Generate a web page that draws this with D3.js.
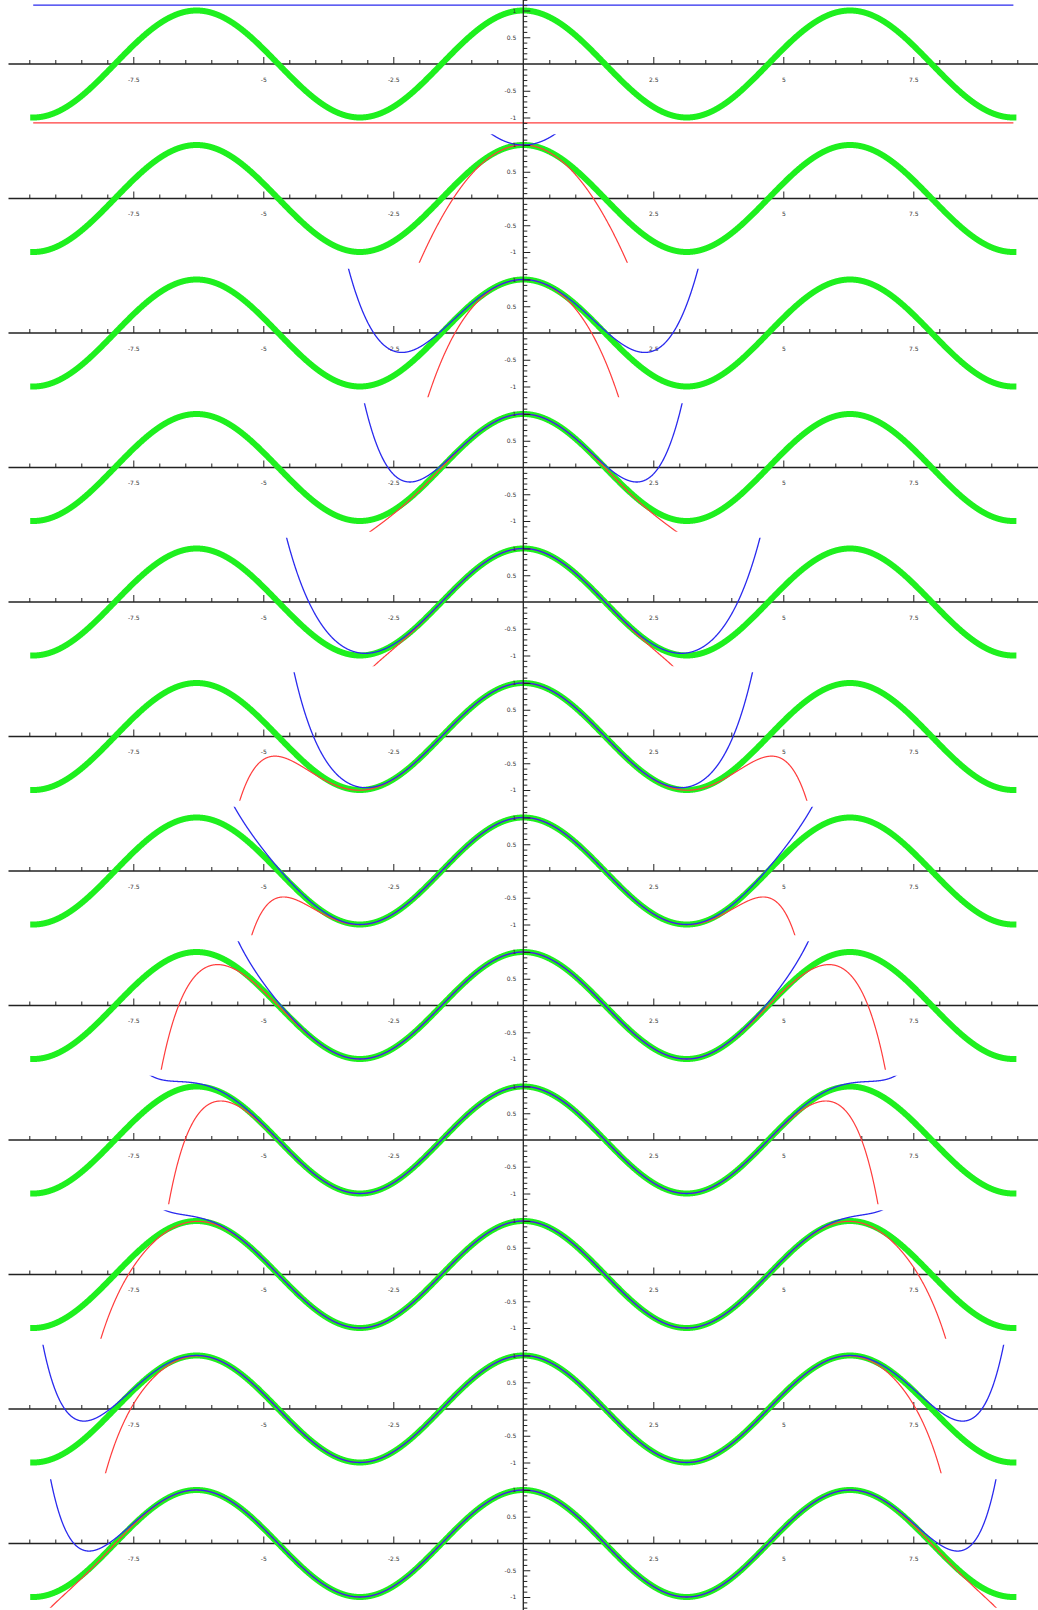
<!DOCTYPE html>
<html>
<head>
<meta charset="utf-8">
<script src="https://cdn.jsdelivr.net/npm/d3@7"></script>
<style>
  html, body { margin: 0; padding: 0; background: #fff; }
  svg { display: block; }
  .lbl { font-family: "DejaVu Sans", sans-serif; font-size: 6px; fill: #333; }
</style>
</head>
<body>
<svg id="chart" width="1038" height="1610"></svg>
<script>
// Twelve stacked frames: cos(x) (green) with the Taylor polynomial of the
// given degree widened by an error envelope  ±factor·|x|^m / m!
// (upper edge blue, lower edge red).

// Degree of the Taylor partial sum in each frame (null = empty sum, i.e. 0)
const partialSumDegrees = [null, 0, 2, 4, 6, 8, 10, 12, 14, 16, 18, 20];
// Power used by the error term in each frame
const envelopePowers = [0, 2, 4, 6, 8, 10, 12, 14, 16, 18, 20, 22];
// Scale applied to the error term
const envelopeFactor = 1.1;

// Axis ticks
const xMajorTicks = [-7.5, -5, -2.5, 2.5, 5, 7.5];
const xMinorTicks = d3.range(-19, 20).map(i => i / 2)
  .filter(v => v !== 0 && !xMajorTicks.includes(v));
const yMajorTicks = [-1, -0.5, 0.5, 1];
const yMinorTicks = d3.range(-12, 13).map(i => i / 10)
  .filter(v => v !== 0 && !yMajorTicks.includes(v));

// Plotted x interval
const xStart = -3 * Math.PI, xEnd = 3 * Math.PI;

const W = 1038, H = 1610;
const frameStep = 134.5;
const svg = d3.select("#chart");

const x = d3.scaleLinear().domain([-10, 10]).range([3.3, 1043.3]);
const y = d3.scaleLinear().domain([-1.2, 1.2]).range([128.2, -0.2]);

function factorial(n) { let f = 1; for (let i = 2; i <= n; i++) f *= i; return f; }
// Taylor polynomial of cos up to degree n
function taylorCos(n) {
  return v => {
    if (n === null) return 0;
    let s = 0;
    for (let k = 0; k <= n; k += 2) s += (k / 2 % 2 ? -1 : 1) * Math.pow(v, k) / factorial(k);
    return s;
  };
}

const xs = d3.range(xStart, xEnd, 0.005).concat([xEnd]);
const line = d3.line().x(d => x(d[0])).y(d => y(d[1]));

function styleAxis(a) {
  a.select(".domain").remove();
  a.selectAll("line").attr("stroke", "#222").attr("stroke-width", 1);
  a.selectAll("text").attr("class", "lbl")
    .attr("fill", null).attr("font-size", null).attr("font-family", null);
}

// Clip for the envelope curves (same local coordinates in every frame)
svg.append("defs").append("clipPath").attr("id", "frameClip")
  .append("rect").attr("x", 0).attr("width", W)
  .attr("y", y(1.2)).attr("height", y(-1.2) - y(1.2));

partialSumDegrees.forEach((deg, i) => {
  const g = svg.append("g").attr("transform", `translate(0,${i * frameStep})`);

  // horizontal axis with its ticks (beneath the curves)
  g.append("line")
    .attr("x1", x(-9.9)).attr("x2", x(10.2))
    .attr("y1", y(0)).attr("y2", y(0))
    .attr("stroke", "#222").attr("stroke-width", 1.3);

  const minorX = d3.axisBottom(x).tickValues(xMinorTicks)
    .tickSizeInner(-4).tickSizeOuter(0).tickFormat("");
  const majorX = d3.axisBottom(x).tickValues(xMajorTicks)
    .tickSizeInner(-7).tickSizeOuter(0).tickPadding(13.5).tickFormat(d => String(d));
  [minorX, majorX].forEach(ax => {
    g.append("g").attr("transform", `translate(0,${y(0)})`).call(ax).call(styleAxis);
  });

  // cos(x)
  g.append("path")
    .datum(xs.map(v => [v, Math.cos(v)]))
    .attr("d", line)
    .attr("fill", "none").attr("stroke", "#1ef01e")
    .attr("stroke-width", 6).attr("stroke-linecap", "square").attr("stroke-linejoin", "round");

  const p = taylorCos(deg);
  const m = envelopePowers[i];
  const err = v => envelopeFactor * Math.pow(Math.abs(v), m) / factorial(m);

  const env = g.append("g").attr("clip-path", "url(#frameClip)");
  env.append("path")
    .datum(xs.map(v => [v, p(v) - err(v)]))
    .attr("d", line)
    .attr("fill", "none").attr("stroke", "#ff3c3c").attr("stroke-width", 1.2);
  env.append("path")
    .datum(xs.map(v => [v, p(v) + err(v)]))
    .attr("d", line)
    .attr("fill", "none").attr("stroke", "#2a2aee").attr("stroke-width", 1.3);

  // vertical-axis ticks and labels (over the curves)
  const minorY = d3.axisRight(y).tickValues(yMinorTicks)
    .tickSizeInner(4).tickSizeOuter(0).tickFormat("");
  const majorY = d3.axisLeft(y).tickValues(yMajorTicks)
    .tickSizeInner(-7).tickSizeOuter(0).tickPadding(7).tickFormat(d => String(d));
  [minorY, majorY].forEach(ax => {
    g.append("g").attr("transform", `translate(${x(0)},0)`).call(ax).call(styleAxis);
  });
});

// vertical axis running through every frame
svg.append("line")
  .attr("x1", x(0)).attr("x2", x(0)).attr("y1", 0).attr("y2", H)
  .attr("stroke", "#222").attr("stroke-width", 1.3);
</script>
</body>
</html>
